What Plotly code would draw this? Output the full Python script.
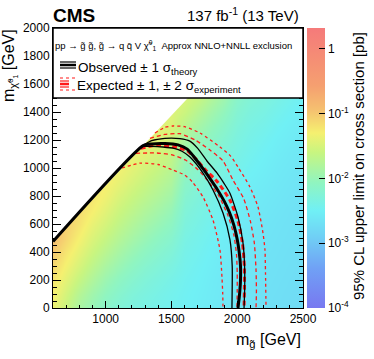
import numpy as np
import plotly.graph_objects as go

# 95% CL upper limit, log10(pb); one list per gluino mass,
# entries for neutralino mass 0, 100, ..., 1500 GeV
mg_bins = [600, 700, 800, 900, 1000, 1100, 1200, 1300, 1400, 1500,
           1600, 1700, 1800, 1900, 2000, 2100, 2200, 2300, 2400, 2500]
mx_bins = [0, 100, 200, 300, 400, 500, 600, 700, 800, 900,
           1000, 1100, 1200, 1300, 1400, 1500]
log_limit_by_mg = [
    [-1.35, -1.30, -1.22, -1.12, -1.00, -0.90, -0.90, -0.90, -0.90, -0.90, -0.90, -0.90, -0.90, -0.90, -0.90, -0.90],
    [-1.60, -1.52, -1.42, -1.32, -1.22, -1.10, -1.05, -1.05, -1.05, -1.05, -1.05, -1.05, -1.05, -1.05, -1.05, -1.05],
    [-1.85, -1.75, -1.62, -1.50, -1.40, -1.30, -1.20, -1.15, -1.15, -1.15, -1.15, -1.15, -1.15, -1.15, -1.15, -1.15],
    [-2.00, -1.92, -1.80, -1.68, -1.57, -1.47, -1.38, -1.28, -1.22, -1.22, -1.22, -1.22, -1.22, -1.22, -1.22, -1.22],
    [-2.15, -2.07, -1.97, -1.85, -1.73, -1.62, -1.52, -1.43, -1.34, -1.28, -1.28, -1.28, -1.28, -1.28, -1.28, -1.28],
    [-2.25, -2.18, -2.09, -1.98, -1.87, -1.76, -1.66, -1.57, -1.48, -1.39, -1.32, -1.32, -1.32, -1.32, -1.32, -1.32],
    [-2.32, -2.27, -2.19, -2.09, -1.99, -1.88, -1.78, -1.68, -1.59, -1.50, -1.42, -1.35, -1.35, -1.35, -1.35, -1.35],
    [-2.37, -2.33, -2.27, -2.19, -2.09, -1.99, -1.89, -1.79, -1.69, -1.60, -1.52, -1.44, -1.38, -1.38, -1.38, -1.38],
    [-2.41, -2.38, -2.33, -2.26, -2.18, -2.09, -1.99, -1.89, -1.79, -1.70, -1.61, -1.53, -1.46, -1.42, -1.42, -1.42],
    [-2.45, -2.43, -2.39, -2.33, -2.26, -2.18, -2.09, -2.00, -1.90, -1.81, -1.72, -1.63, -1.55, -1.48, -1.45, -1.45],
    [-2.49, -2.48, -2.46, -2.43, -2.40, -2.36, -2.31, -2.26, -2.20, -2.13, -2.05, -1.96, -1.85, -1.72, -1.58, -1.50],
    [-2.53, -2.52, -2.50, -2.48, -2.45, -2.42, -2.38, -2.34, -2.29, -2.23, -2.16, -2.08, -1.99, -1.88, -1.75, -1.60],
    [-2.57, -2.56, -2.55, -2.53, -2.51, -2.48, -2.45, -2.41, -2.37, -2.32, -2.26, -2.19, -2.11, -2.02, -1.91, -1.78],
    [-2.61, -2.60, -2.59, -2.58, -2.56, -2.54, -2.51, -2.48, -2.44, -2.40, -2.35, -2.29, -2.22, -2.14, -2.05, -1.94],
    [-2.64, -2.63, -2.62, -2.61, -2.60, -2.58, -2.56, -2.53, -2.50, -2.46, -2.42, -2.37, -2.33, -2.28, -2.22, -2.15],
    [-2.67, -2.66, -2.65, -2.64, -2.63, -2.62, -2.60, -2.58, -2.55, -2.52, -2.48, -2.44, -2.40, -2.36, -2.31, -2.25],
    [-2.70, -2.69, -2.68, -2.67, -2.66, -2.65, -2.63, -2.61, -2.59, -2.56, -2.53, -2.50, -2.46, -2.41, -2.36, -2.30],
    [-2.72, -2.71, -2.70, -2.69, -2.68, -2.67, -2.66, -2.64, -2.62, -2.60, -2.58, -2.55, -2.52, -2.48, -2.43, -2.37],
    [-2.74, -2.73, -2.72, -2.71, -2.70, -2.69, -2.68, -2.67, -2.65, -2.63, -2.61, -2.59, -2.56, -2.53, -2.49, -2.44],
    [-2.76, -2.75, -2.74, -2.73, -2.72, -2.71, -2.70, -2.69, -2.68, -2.66, -2.64, -2.62, -2.60, -2.57, -2.54, -2.50],
]

# kinematic boundary (no points above it)
kin_mg = [600, 2125]
kin_mx = [475, 2000]

# exclusion contours [GeV]
obs_mg = [600, 1285, 1350, 1450, 1550, 1620, 1680, 1740, 1800, 1850, 1900, 1940, 1975, 2000, 2015, 2025, 2025, 2018, 2006]
obs_mx = [475, 1160, 1172, 1175, 1165, 1135, 1070, 995, 915, 845, 765, 685, 590, 490, 400, 300, 200, 100, 0]
obs_up_mg = [1290, 1350, 1450, 1565, 1640, 1700, 1770, 1846, 1900, 1945, 2006, 2044, 2056, 2057, 2052]
obs_up_mx = [1165, 1195, 1212, 1210, 1192, 1140, 1050, 965, 890, 820, 650, 464, 300, 150, 0]
obs_dn_mg = [1280, 1350, 1436, 1520, 1580, 1641, 1740, 1816, 1892, 1945, 1962, 1962, 1960]
obs_dn_mx = [1155, 1155, 1150, 1140, 1120, 1078, 964, 843, 678, 486, 300, 150, 0]

exp_mg = [1265, 1390, 1512, 1618, 1690, 1760, 1846, 1945, 2006, 2040, 2054, 2055, 2052]
exp_mx = [1140, 1165, 1152, 1125, 1060, 985, 905, 770, 620, 464, 300, 150, 0]
exp_up1_mg = [1337, 1450, 1565, 1680, 1793, 1892, 1968, 2050, 2100, 2130, 2143, 2146, 2143]
exp_up1_mx = [1212, 1240, 1245, 1200, 1128, 1050, 914, 780, 620, 464, 271, 120, 0]
exp_dn1_mg = [1230, 1390, 1512, 1610, 1700, 1780, 1860, 1930, 1975, 1995, 2000, 2000, 1998]
exp_dn1_mx = [1105, 1107, 1092, 1055, 990, 905, 800, 660, 520, 380, 250, 120, 0]
exp_up2_mg = [1375, 1450, 1512, 1600, 1717, 1869, 1950, 2006, 2097, 2158, 2196, 2211, 2215, 2219]
exp_up2_mx = [1250, 1290, 1300, 1295, 1250, 1150, 1085, 1007, 864, 721, 535, 414, 250, 0]
exp_dn2_mg = [1124, 1261, 1400, 1512, 1600, 1660, 1740, 1816, 1869, 1884, 1890, 1892]
exp_dn2_mx = [1000, 1035, 1025, 985, 950, 900, 793, 628, 414, 221, 100, 0]

FONT = "Liberation Sans, Arial, sans-serif"
zmin, zmax = -4, 0.32

cscale = [
    [0.0, "#7878f0"], [0.139, "#70a0f5"], [0.255, "#70d0f5"], [0.347, "#70f0f5"],
    [0.447, "#90f5c0"], [0.556, "#c8f580"], [0.625, "#f5f070"], [0.708, "#f5c070"],
    [0.792, "#f5a070"], [1.0, "#f57a7a"],
]

cb_major = [-4, -3, -2, -1, 0]
cb_labels = ["10<sup>-4</sup>", "10<sup>-3</sup>", "10<sup>-2</sup>", "10<sup>-1</sup>", "1"]

fig = go.Figure()
fig.add_trace(go.Heatmap(
    x=mg_bins, y=mx_bins, z=np.array(log_limit_by_mg).T, zsmooth="best",
    colorscale=cscale, zmin=zmin, zmax=zmax,
    colorbar=dict(x=1.016, xanchor="left", xpad=0, y=0.5, yanchor="middle", ypad=0,
                  len=1, thickness=18, outlinewidth=0,
                  tickvals=cb_major, ticktext=cb_labels, ticks="inside", ticklen=6,
                  tickcolor="black", tickfont=dict(family=FONT, size=12, color="black")),
    hoverinfo="skip",
))
# white above the kinematic limit
fig.add_trace(go.Scatter(x=kin_mg + [kin_mg[0]], y=kin_mx + [kin_mx[-1]], mode="lines",
                         fill="toself", fillcolor="white", line=dict(width=0),
                         hoverinfo="skip", showlegend=False))

def line(x, y, color, width, dash="solid"):
    fig.add_trace(go.Scatter(x=x, y=y, mode="lines", showlegend=False, hoverinfo="skip",
                             line=dict(color=color, width=width, dash=dash, shape="spline", smoothing=0.6)))

red = "#ff1a1a"
line(exp_up2_mg, exp_up2_mx, red, 1.3, "dot")
line(exp_dn2_mg, exp_dn2_mx, red, 1.3, "dot")
line(exp_up1_mg, exp_up1_mx, red, 1.3, "4px,3px")
line(exp_dn1_mg, exp_dn1_mx, red, 1.3, "4px,3px")
line(exp_mg, exp_mx, red, 3, "5px,3px")
line(obs_up_mg, obs_up_mx, "black", 1.3)
line(obs_dn_mg, obs_dn_mx, "black", 1.3)
line(obs_mg, obs_mx, "black", 3)

# legend box, ROOT style (positions in pixels of the 374x359 canvas)
def px(x):
    return (x - 53) / 250

def py(y):
    return (308 - y) / 280

shapes = [dict(type="rect", xref="x", yref="y", x0=600, x1=2500, y0=1500, y1=2000,
               fillcolor="white", line=dict(color="black", width=1.5), layer="above")]
for yy, w in [(62, 1.2), (65, 2.5), (68, 1.2)]:
    shapes.append(dict(type="line", xref="paper", yref="paper", x0=px(60), x1=px(76),
                       y0=py(yy), y1=py(yy), line=dict(color="black", width=w), layer="above"))
for yy, w, d in [(78, 1.2, "dot"), (81, 1.2, "dash"), (84, 2.5, "dash"), (87, 1.2, "dash"), (90, 1.2, "dot")]:
    shapes.append(dict(type="line", xref="paper", yref="paper", x0=px(60), x1=px(76),
                       y0=py(yy), y1=py(yy), line=dict(color=red, width=w, dash=d), layer="above"))

# minor log ticks on the colour bar
for d in range(-4, 1):
    for k in range(2, 10):
        v = np.log10(k) + d
        if v > zmax:
            break
        yv = (v - zmin) / (zmax - zmin)
        shapes.append(dict(type="line", xref="paper", yref="paper", x0=px(322), x1=px(325),
                           y0=yv, y1=yv, line=dict(color="black", width=1), layer="above"))

ann = [
    dict(text="pp → g̃ g̃, g̃ → q q̄ V χ̃<sup>0</sup><sub>1</sub>  Approx NNLO+NNLL exclusion",
         x=px(173), y=py(45), font=dict(size=9.5)),
    dict(text="Observed ± 1 σ<sub>theory</sub>", x=px(138), y=py(68), font=dict(size=13.5)),
    dict(text="Expected ± 1, ± 2 σ<sub>experiment</sub>", x=px(159), y=py(86), font=dict(size=13.5)),
    dict(text="<b>CMS</b>", x=px(74), y=py(15.5), font=dict(size=19)),
    dict(text="137 fb<sup>-1</sup> (13 TeV)", x=px(243), y=py(15), font=dict(size=15)),
    dict(text="m<sub>g̃</sub> [GeV]", x=px(268), y=py(340), font=dict(size=16)),
    dict(text="m<sub>χ̃<sup>0</sup>₁</sub> [GeV]", x=px(10), y=py(66), textangle=-90, font=dict(size=16)),
    dict(text="95% CL upper limit on cross section [pb]", x=px(358), y=py(166),
         textangle=-90, font=dict(size=15)),
]
for a in ann:
    a.update(xref="paper", yref="paper", showarrow=False, xanchor="center", yanchor="middle")
    a["font"].update(family=FONT, color="black")

axis = dict(showline=True, linecolor="black", linewidth=1, mirror="ticks", ticks="inside",
            tickcolor="black", showgrid=False, zeroline=False,
            tickfont=dict(family=FONT, size=12, color="black"))
fig.update_layout(
    width=374, height=359, margin=dict(l=53, r=71, t=28, b=51),
    plot_bgcolor="white", paper_bgcolor="white",
    xaxis=dict(axis, range=[600, 2500], dtick=500, ticklen=7,
               minor=dict(dtick=100, ticks="inside", ticklen=3.5, tickcolor="black")),
    yaxis=dict(axis, range=[0, 2000], dtick=200, ticklen=8,
               minor=dict(dtick=50, ticks="inside", ticklen=4, tickcolor="black")),
    shapes=shapes, annotations=ann, showlegend=False,
)

fig.write_html("out.html", config={"displayModeBar": False},
               post_script="document.body.style.margin='0';")
